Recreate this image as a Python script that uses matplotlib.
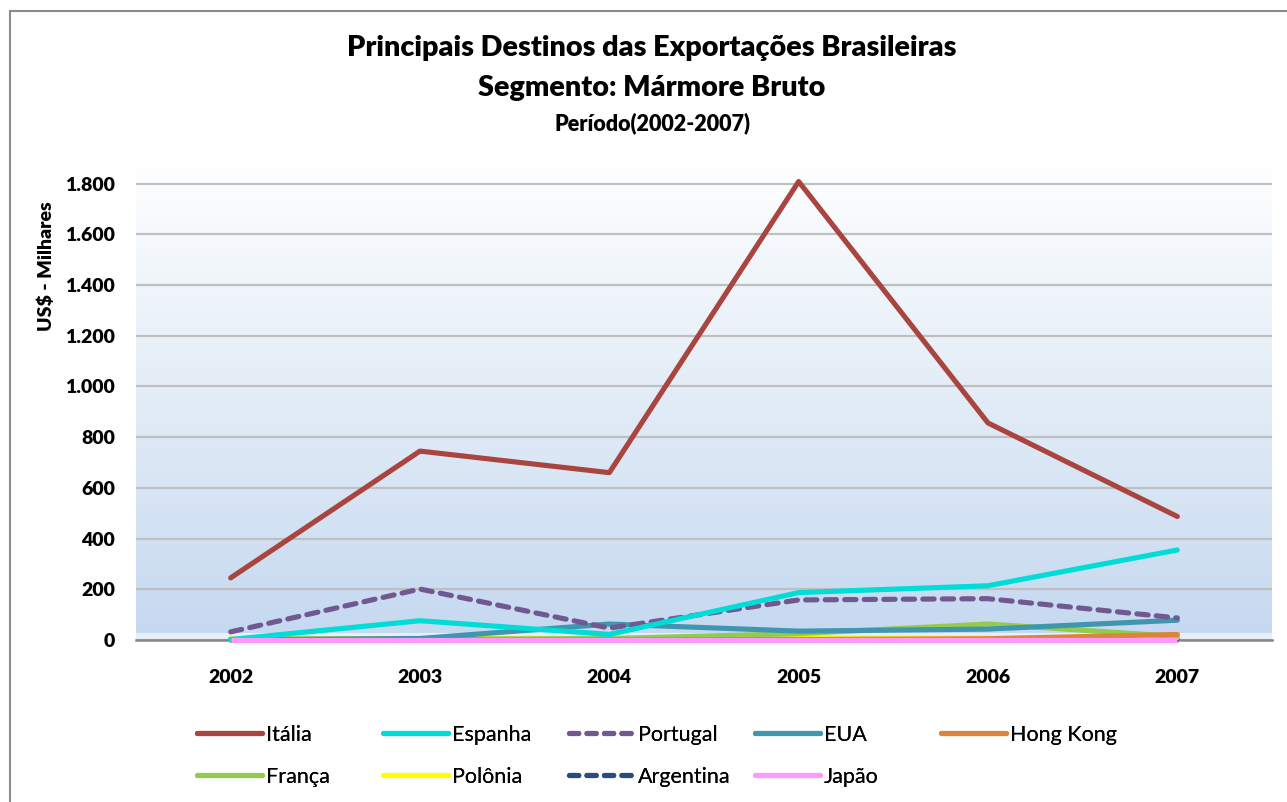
import matplotlib
matplotlib.use("Agg")
import matplotlib.pyplot as plt
import numpy as np
from matplotlib.lines import Line2D
from matplotlib.colors import LinearSegmentedColormap

plt.rcParams['font.family'] = ['Lato', 'DejaVu Sans']

years = ['2002', '2003', '2004', '2005', '2006', '2007']
italia    = [245, 745, 660, 1808, 856, 487]
espanha   = [2, 76, 22, 187, 214, 355]
portugal  = [32, 201, 47, 158, 163, 87]
eua       = [2, 6, 63, 35, 43, 78]
hongkong  = [0, 0, 1, 2, 5, 22]
franca    = [0, 3, 6, 25, 63, 14]
polonia   = [4, 6, 6, 8, 8, 10]
argentina = [2, 3, 2, 3, 3, 3]
japao     = [0, 0, 0, 0, 0, 0]

series_names = ['Itália', 'Espanha', 'Portugal', 'EUA', 'Hong Kong',
                'França', 'Polônia', 'Argentina', 'Japão']
series_vals = [italia, espanha, portugal, eua, hongkong,
               franca, polonia, argentina, japao]
colors = ['#A9443F', '#00DDD6', '#705890', '#3F96AE', '#DD843C',
          '#93CB4F', '#FFFF00', '#284C7C', '#FF99FF']
styles = ['-', '-', '--', '-', '-', '-', '-', '--', '-']
yticks = [0, 200, 400, 600, 800, 1000, 1200, 1400, 1600, 1800]
ytick_labels = ['0', '200', '400', '600', '800', '1.000', '1.200', '1.400', '1.600', '1.800']

W, H = 1287, 802
fig = plt.figure(figsize=(W / 100, H / 100), dpi=100)
fig.patch.set_facecolor('white')

ax = fig.add_axes([136 / W, 1 - 640 / H, (1272 - 136) / W, (640 - 160) / H])
ax.set_facecolor('white')

# gradient background
grad_cmap = LinearSegmentedColormap.from_list(
    'g', [(0.0, '#C6D9F0'), (0.015, '#C6D9F0'), (0.5, '#E2ECF7'), (1.0, '#FFFFFF')])
grad = np.linspace(0, 1, 256).reshape(-1, 1)
ax.imshow(grad, aspect='auto', cmap=grad_cmap, extent=[0, 1, 0, 1],
          transform=ax.transAxes, origin='lower', zorder=0)
# white strip near bottom
ax.axhspan(0, 28, color='white', alpha=0.6, zorder=0.5, lw=0)

x = np.arange(len(years))
order = [8, 7, 6, 5, 4, 3, 2, 1, 0]
for i in order:
    ls = styles[i]
    kw = dict(color=colors[i], lw=3.7, solid_capstyle='round', zorder=3 + (9 - i) * 0.01)
    if ls == '--':
        kw.update(dict(linestyle=(0, (2.2, 1.6)), dash_capstyle='round'))
    ax.plot(x, series_vals[i], clip_on=False, **kw)
# Japão on top at the baseline
ax.plot(x, japao, color=colors[8], lw=3.7, zorder=4, solid_capstyle='butt', clip_on=False)

ax.set_xlim(-0.5, 5.5)
ax.set_ylim(0, 1893)
ax.set_yticks(yticks)
ax.set_yticklabels(ytick_labels, fontsize=14, fontweight='heavy')
ax.set_xticks(x)
ax.set_xticklabels(years, fontsize=14, fontweight='heavy')
ax.tick_params(axis='y', length=0, pad=15)
ax.tick_params(axis='x', length=0, pad=21)
ax.grid(axis='y', color='#BFBFBF', lw=1.6, zorder=1)
ax.set_axisbelow(True)
for s in ['top', 'right', 'left']:
    ax.spines[s].set_visible(False)
ax.spines['bottom'].set_color('#868686')
ax.spines['bottom'].set_linewidth(1.8)
ax.spines['bottom'].set_zorder(2)

fig.text(46 / W, 1 - 266 / H, 'US$ - Milhares', rotation=90, fontsize=14,
         fontweight='heavy', ha='center', va='center')

fig.text(652 / W, 1 - 48 / H, 'Principais Destinos das Exportações Brasileiras',
         fontsize=20.7, fontweight='heavy', ha='center', va='center')
fig.text(652 / W, 1 - 88 / H, 'Segmento: Mármore Bruto',
         fontsize=20.7, fontweight='heavy', ha='center', va='center')
fig.text(652 / W, 1 - 123 / H, 'Período(2002-2007)',
         fontsize=15.5, fontweight='heavy', ha='center', va='center')

# legend: each entry placed on an equal-width grid
col_x = [197, 383, 569, 755, 941]
row_y = [735, 777]
for k, name in enumerate(series_names):
    r, c = divmod(k, 5)
    if styles[k] == '--':
        h = Line2D([], [], color=colors[k], lw=3.7, linestyle=(0, (1.8, 1.6)),
                   dash_capstyle='round')
    else:
        h = Line2D([], [], color=colors[k], lw=3.7, solid_capstyle='round')
    leg = fig.legend([h], [name], loc='center left',
                     bbox_to_anchor=(col_x[c] / W, 1 - row_y[r] / H),
                     frameon=False, fontsize=15.5, handlelength=3.0,
                     handletextpad=0.2, borderpad=0, borderaxespad=0)
    fig.add_artist(leg)

# outer border (top and left visible)
fig.add_artist(Line2D([10 / W, 1], [1 - 11 / H, 1 - 11 / H], color='#8C8C8C', lw=1.5,
                      transform=fig.transFigure))
fig.add_artist(Line2D([10 / W, 10 / W], [1 - 11 / H, 0], color='#8C8C8C', lw=1.5,
                      transform=fig.transFigure))

fig.savefig('out.png', dpi=100)
